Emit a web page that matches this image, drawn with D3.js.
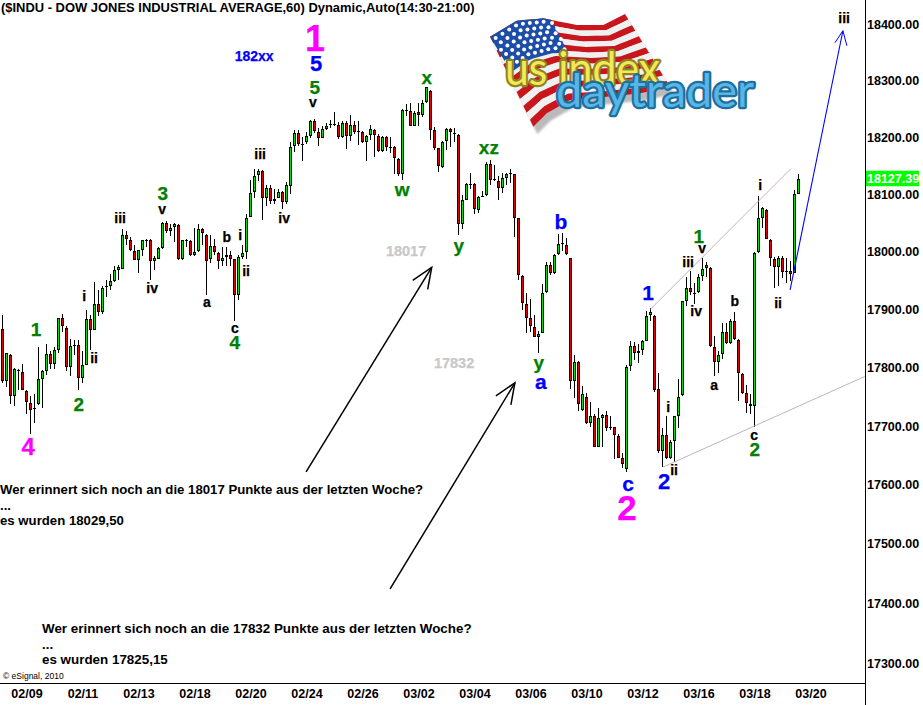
<!DOCTYPE html>
<html><head><meta charset="utf-8">
<script src="https://cdn.jsdelivr.net/npm/d3@7"></script>
<style>
html,body{margin:0;padding:0;background:#fff;overflow:hidden}
svg{display:block}
text{font-family:"Liberation Sans",Arial,sans-serif}
</style></head><body>
<svg id="c" width="923" height="705"></svg>
<script>
const title = "($INDU - DOW JONES INDUSTRIAL AVERAGE,60) Dynamic,Auto(14:30-21:00)";
const dateLabels = ["02/09","02/11","02/13","02/18","02/20","02/24","02/26","03/02","03/04","03/06","03/10","03/12","03/16","03/18","03/20"];
const dateTickIndex = [6,20,34,48,62,76,90,104,118,132,146,160,174,188,202];
const priceTicks = [18400,18300,18200,18100,18000,17900,17800,17700,17600,17500,17400,17300];
const lastPrice = 18127.39;

const opens = [
17866,17777,17822,17751,17796,17793,17760,17740,17730,17737,
17780,17794,17824,17807,17831,17885,17869,17801,17839,17839,
17782,17805,17883,17865,17909,17895,17939,17941,17949,17968,
17971,18030,18021,18002,17986,18004,18021,18021,17984,17988,
18006,18051,18036,18043,18047,17987,18019,18019,17995,18001,
18040,18030,17987,18010,17998,17984,17991,17995,17987,17925,
17991,17999,18061,18104,18134,18141,18093,18112,18088,18094,
18105,18087,18115,18184,18208,18189,18191,18203,18229,18209,
18199,18215,18223,18223,18222,18200,18225,18202,18222,18211,
18209,18192,18204,18213,18202,18176,18201,18182,18183,18162,
18136,18248,18246,18220,18245,18240,18262,18281,18213,18181,
18148,18194,18215,18208,18204,18048,18091,18119,18119,18073,
18096,18099,18153,18127,18124,18112,18129,18137,18135,18058,
17958,17910,17885,17870,17853,17860,17930,17978,17964,17996,
18014,18012,17989,17777,17810,17727,17750,17706,17717,17665,
17713,17719,17698,17698,17683,17645,17627,17802,17837,17825,
17830,17846,17890,17889,17764,17657,17684,17645,17675,17718,
17753,17915,17938,17929,17930,17958,17972,17972,17836,17809,
17823,17862,17843,17881,17848,17789,17757,17738,17734,17999,
18059,18073,18021,17988,17973,17990,17966,17966,17964,18101];
const highs = [
17890,17826,17823,17800,17797,17807,17761,17752,17754,17835,
17796,17840,17829,17835,17885,17892,17871,17850,17848,17847,
17829,17899,17890,17947,17933,17941,17952,17961,17976,17977,
18039,18037,18025,18012,18004,18021,18023,18022,17992,18008,
18052,18053,18049,18050,18048,18021,18023,18020,18042,18049,
18041,18031,18030,18023,17999,18009,18009,18001,17988,17995,
18011,18065,18126,18145,18144,18142,18116,18116,18109,18109,
18106,18121,18191,18213,18213,18200,18210,18231,18232,18216,
18219,18225,18230,18245,18226,18229,18228,18240,18228,18228,
18211,18204,18222,18215,18205,18202,18203,18200,18184,18163,
18250,18259,18260,18246,18261,18266,18289,18283,18218,18182,
18193,18216,18217,18216,18205,18099,18120,18137,18120,18098,
18106,18156,18161,18151,18132,18138,18138,18145,18136,18059,
17959,17929,17918,17890,17863,17944,17982,17982,17997,18031,
18032,18024,17990,17822,17811,17768,17756,17741,17721,17731,
17720,17726,17717,17699,17687,17654,17804,17845,17844,17840,
17848,17897,17902,17890,17790,17697,17717,17677,17718,17780,
17915,17956,17966,17946,17961,17990,17983,17973,17854,17828,
17877,17877,17884,17896,17849,17791,17771,17754,17999,18097,
18078,18074,18022,17991,17992,17992,17990,17984,18107,18135];
const lows = [
17774,17766,17738,17735,17762,17761,17720,17687,17706,17736,
17730,17788,17797,17798,17826,17861,17794,17785,17822,17761,
17773,17804,17831,17864,17889,17892,17922,17933,17948,17952,
17970,18011,18001,17985,17964,17992,18008,17952,17968,17987,
18005,18032,18028,18017,17986,17986,18008,17992,17992,17999,
18012,17926,17980,17995,17971,17975,17976,17975,17880,17916,
17988,17988,18060,18093,18123,18056,18080,18083,18084,18093,
18074,18084,18100,18174,18185,18158,18188,18199,18208,18184,
18198,18213,18216,18219,18197,18199,18180,18193,18205,18187,
18190,18158,18196,18165,18175,18175,18176,18173,18135,18133,
18125,18238,18219,18219,18220,18235,18261,18196,18178,18139,
18147,18178,18183,18191,18030,18040,18090,18109,18065,18067,
18095,18098,18116,18123,18090,18102,18116,18120,18025,17951,
17900,17860,17861,17852,17825,17859,17929,17960,17961,17995,
18002,17994,17763,17748,17725,17725,17704,17699,17664,17664,
17665,17691,17693,17644,17645,17629,17622,17794,17814,17808,
17822,17845,17880,17758,17654,17631,17644,17644,17639,17697,
17752,17906,17925,17909,17929,17949,17956,17836,17786,17791,
17815,17841,17841,17848,17742,17754,17722,17721,17699,17998,
18042,18022,17976,17938,17941,17954,17946,17949,17963,18100];
const closes = [
17777,17825,17751,17797,17794,17761,17741,17728,17729,17780,
17795,17824,17807,17831,17885,17871,17801,17838,17838,17782,
17804,17883,17865,17909,17896,17938,17940,17949,17968,17974,
18030,18023,18003,17986,18003,18020,18020,17984,17990,18006,
18051,18036,18042,18049,17987,18020,18021,17995,18000,18040,
18032,17984,18010,17999,17984,17990,17995,17988,17925,17991,
17998,18059,18103,18133,18141,18093,18112,18088,18092,18105,
18087,18117,18183,18208,18188,18188,18203,18229,18211,18198,
18215,18219,18222,18224,18200,18225,18202,18222,18209,18210,
18192,18202,18215,18204,18176,18201,18183,18183,18164,18136,
18248,18247,18220,18243,18240,18261,18288,18213,18182,18149,
18192,18214,18209,18207,18048,18091,18118,18118,18074,18095,
18097,18154,18126,18125,18112,18128,18135,18136,18059,17960,
17912,17886,17871,17853,17858,17929,17978,17963,17995,18014,
18015,17997,17777,17809,17737,17754,17706,17717,17665,17713,
17719,17697,17697,17684,17646,17635,17801,17837,17826,17829,
17845,17889,17896,17762,17657,17684,17645,17673,17717,17750,
17914,17938,17930,17928,17957,17971,17978,17837,17809,17822,
17862,17842,17881,17850,17791,17757,17740,17734,17998,18059,
18077,18023,17990,17973,17990,17965,17965,17961,18100,18127.39];

// wave labels: text, candle position, price level, style
const waveLabels = [
["1",78.1,18375,"mag1"],["5",78.4,18331,"blue5"],["5",78.1,18289,"green"],["v",77.6,18262,"small"],
["182xx",62.9,18343,"blueSm"],["x",106.1,18306,"green"],["w",99.9,18109,"green"],["y",114.1,18011,"green"],
["xz",121.6,18182,"green"],["18017",100.9,18002,"grey"],["17832",112.9,17809,"grey"],["y",134.1,17810,"green"],
["a",134.6,17776,"blue"],["b",139.6,18053,"blue"],["1",161.4,17930,"blue"],["c",156.4,17602,"blue"],
["2",156.1,17562,"mag2"],["2",165.4,17606,"blue5"],["i",166.4,17733,"small"],["ii",167.9,17625,"small"],
["iii",171.4,17983,"small"],["iv",173.4,17897,"small"],["v",174.9,18007,"small"],["1",174.1,18028,"green"],
["a",177.9,17771,"small"],["b",183.1,17915,"small"],["c",187.9,17685,"small"],["2",188.1,17661,"green"],
["i",189.4,18117,"small"],["ii",193.9,17912,"small"],["iii",210.4,18411,"small"],["3",40.1,18102,"green"],
["v",39.9,18074,"small"],["iii",29.4,18059,"small"],["iv",37.4,17938,"small"],["iii",64.4,18171,"small"],
["iv",70.4,18059,"small"],["i",20.4,17923,"small"],["a",51.1,17914,"small"],["b",56.1,18026,"small"],
["i",59.4,18030,"small"],["ii",60.9,17967,"small"],["1",8.4,17866,"green"],["ii",22.9,17817,"small"],
["2",19.1,17738,"green"],["4",6.4,17666,"mag4"],["c",58.1,17869,"small"],["4",58.1,17843,"green"]
];
const trendLines = [[161.9,17900,197.1,18145],[165.1,17630,215.6,17785]];
const blackArrows = [[75.9,17622,107.3,17973],[96.9,17424,128.1,17774]];
const blueArrow = [196.9,17934,210.1,18388];
const noteA = ["Wer erinnert sich noch an die 18017 Punkte aus der letzten Woche?","...","es wurden 18029,50"];
const noteB = ["Wer erinnert sich noch an die 17832 Punkte aus der letzten Woche?","...","es wurden 17825,15"];

const styles = {
  small:{f:14,c:"#000"}, green:{f:19,c:"#008000"}, blue:{f:21,c:"#0000ff"}, blue5:{f:22,c:"#0000ff"},
  blueSm:{f:14,c:"#0000ff"}, grey:{f:14.5,c:"#c8c8c8"}, mag1:{f:36,c:"#ff00ff"}, mag2:{f:35,c:"#ff00ff"}, mag4:{f:24,c:"#ff00ff"}
};

const svg = d3.select("#c");
const axisX = 865.5, axisY = 683;
const x = d3.scaleLinear().domain([0,215.75]).range([2.5,axisX]);
const y = d3.scaleLog().domain([18400,17300]).range([24,663]);

/* ---------- logo ---------- */
(function logo(){
  const defs = svg.append("defs");
  defs.append("filter").attr("id","blur").append("feGaussianBlur").attr("stdDeviation",3);
  const T=[[30,110],[110,62],[190,55],[290,75],[370,75],[435,42]];
  const B=[[160,380],[200,340],[270,300],[380,290],[480,280],[570,260]];
  const map=(u,v)=>{const i=Math.min(4,Math.floor(u)),f=u-i;
    const tx=T[i][0]+(T[i+1][0]-T[i][0])*f,ty=T[i][1]+(T[i+1][1]-T[i][1])*f;
    const bx=B[i][0]+(B[i+1][0]-B[i][0])*f,by=B[i][1]+(B[i+1][1]-B[i][1])*f;
    return [tx+(bx-tx)*v,ty+(by-ty)*v];};
  const g=svg.append("g").attr("transform","translate(480,0) scale(0.3333)");
  const band=(u0,u1,v0,v1)=>{const pts=[];
    for(let u=u0;u<=u1+1e-6;u+=0.25)pts.push(map(u,v0));
    for(let u=u1;u>=u0-1e-6;u-=0.25)pts.push(map(u,v1));
    return "M"+pts.map(p=>p.join(",")).join("L")+"Z";};
  g.append("path").attr("d",band(0,5,0,1)).attr("fill","#777").attr("opacity",.5)
    .attr("transform","translate(12,22)").attr("filter","url(#blur)");
  for(let k=0;k<13;k++){
    g.append("path").attr("d",band(0,5,k/13,(k+1)/13)).attr("fill",k%2?"#f0f0f0":"#c8161c");
  }
  g.append("path").attr("d",band(0,2.4,0,0.42)).attr("fill","#1c4da8");
  for(let a=0;a<9;a++)for(let b=0;b<6;b++){
    const p=map(0.15+a*0.26+(b%2)*0.1,0.04+b*0.065);
    g.append("circle").attr("cx",p[0]).attr("cy",p[1]).attr("r",6).attr("fill","#fff");
  }
  const tube=(s,px,py,len,outer,inner)=>{
    svg.append("text").attr("x",px).attr("y",py).text(s)
       .attr("font-size",46).style("font-family","Lato,'Open Sans',sans-serif")
       .attr("textLength",len).attr("lengthAdjust","spacingAndGlyphs")
       .attr("fill",inner).attr("stroke",outer).attr("stroke-width",4.5).attr("stroke-linejoin","round")
       .style("paint-order","stroke");
  };
  tube("us index",505,85,155,"#8c8420","#f6e65a");
  tube("daytrader",556,107,198,"#1d6f9e","#58b6e6");
})();

/* ---------- candles ---------- */
const candles = svg.append("g").attr("shape-rendering","crispEdges");
opens.forEach((o,i)=>{
  const cx=x(i), up=closes[i]>=o;
  const hi=Math.round(y(highs[i])), lo=Math.round(y(lows[i]));
  const t=Math.round(y(Math.max(o,closes[i]))), b=Math.round(y(Math.min(o,closes[i])));
  candles.append("rect").attr("x",cx-.5).attr("y",hi).attr("width",1).attr("height",Math.max(lo-hi,1)).attr("fill","#000");
  candles.append("rect").attr("x",cx-1.5).attr("y",t).attr("width",3).attr("height",Math.max(b-t,1)).attr("fill","#000");
  if(b-t>2) candles.append("rect").attr("x",cx-.5).attr("y",t+1).attr("width",1).attr("height",b-t-2)
    .attr("fill",up?"#00e400":"#e80000");
});

/* ---------- trend lines and arrows ---------- */
const plot = svg.append("g");
trendLines.forEach(l=>plot.append("line").attr("x1",x(l[0])).attr("y1",y(l[1])).attr("x2",x(l[2])).attr("y2",y(l[3]))
  .attr("stroke","#c4b2ba").attr("stroke-width",1));
blackArrows.forEach(a=>{
  const tx=x(a[2]),ty=y(a[3]);
  plot.append("line").attr("x1",x(a[0])).attr("y1",y(a[1])).attr("x2",tx).attr("y2",ty).attr("stroke","#000").attr("stroke-width",1.5);
  plot.append("path").attr("d",`M${tx-19},${ty+13}L${tx},${ty}L${tx-4},${ty+22}`).attr("fill","none").attr("stroke","#000").attr("stroke-width",1.5);
});
{
  const tx=x(blueArrow[2]),ty=y(blueArrow[3]);
  plot.append("line").attr("x1",x(blueArrow[0])).attr("y1",y(blueArrow[1])).attr("x2",tx).attr("y2",ty).attr("stroke","#0000ff").attr("stroke-width",1.1);
  plot.append("path").attr("d",`M${tx-8},${ty+12}L${tx},${ty}L${tx+4},${ty+15}`).attr("fill","none").attr("stroke","#0000ff").attr("stroke-width",1);
}

/* ---------- wave labels ---------- */
svg.append("g").selectAll("text").data(waveLabels).join("text")
  .attr("x",d=>x(d[1])).attr("y",d=>y(d[2])).attr("dy",".36em").attr("text-anchor","middle")
  .attr("font-weight","bold").attr("font-size",d=>styles[d[3]].f).attr("fill",d=>styles[d[3]].c)
  .attr("stroke",d=>styles[d[3]].c).attr("stroke-width",.25)
  .text(d=>d[0]);

/* ---------- notes ---------- */
const note=(lines,px,py,fs)=>lines.forEach((s,k)=>svg.append("text").attr("x",px).attr("y",py+k*15.5)
  .attr("font-size",fs).attr("font-weight","bold").attr("fill","#000").text(s));
note(noteA,0,494,13.2);
note(noteB,42,633,13.4);
svg.append("text").attr("x",1).attr("y",11.5).attr("font-size",12.95).attr("font-weight","bold").attr("fill","#000").text(title);
svg.append("text").attr("x",3).attr("y",679).attr("font-size",8.5).attr("fill","#000").text("\u00A9 eSignal, 2010");

/* ---------- axes ---------- */
svg.append("line").attr("x1",0).attr("x2",axisX).attr("y1",axisY+.5).attr("y2",axisY+.5).attr("stroke","#000");
svg.append("line").attr("x1",axisX).attr("x2",axisX).attr("y1",0).attr("y2",705).attr("stroke","#000");
const xa=svg.append("g").attr("transform",`translate(0,${axisY})`)
  .call(d3.axisBottom(x).tickValues(dateTickIndex).tickSize(0).tickPadding(6)
    .tickFormat(d=>dateLabels[dateTickIndex.indexOf(d)]));
const ya=svg.append("g").attr("transform",`translate(${axisX},0)`)
  .call(d3.axisRight(y).tickValues(priceTicks).tickSize(0).tickPadding(1.5).tickFormat(d3.format(".2f")));
[xa,ya].forEach(a=>{a.select(".domain").remove();
  a.selectAll("text").attr("font-size",12.5).attr("font-weight","bold").attr("fill","#000")
   .style("font-family",'"Liberation Sans",Arial,sans-serif');});
/* last price tag */
const ly=y(lastPrice);
svg.append("rect").attr("x",axisX+.5).attr("y",ly-8).attr("width",53).attr("height",15.5).attr("fill","#00ff00");
svg.append("text").attr("x",axisX+1.5).attr("y",ly).attr("dy",".36em").attr("font-size",12.5).attr("font-weight","bold")
  .attr("fill","#fff").text(lastPrice.toFixed(2));
</script>
</body></html>
